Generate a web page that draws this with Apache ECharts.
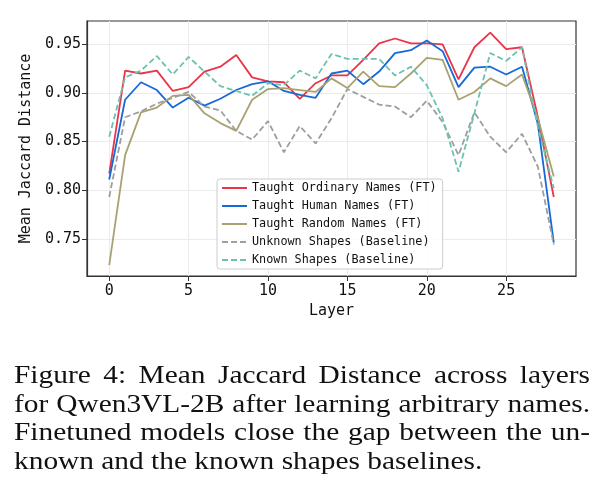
<!DOCTYPE html>
<html lang="en">
<head>
<meta charset="UTF-8">
<title>Mean Jaccard Distance</title>
<style>html,body{margin:0;padding:0;background:#fff}</style>
</head>
<body>
<div id="main" style="width:606px;height:491px;"></div>
<script src="https://cdn.jsdelivr.net/npm/echarts@6/dist/echarts.min.js"></script>
<script>
    // data
    var layers = [0, 1, 2, 3, 4, 5, 6, 7, 8, 9, 10, 11, 12, 13, 14, 15, 16, 17, 18, 19, 20, 21, 22, 23, 24, 25, 26, 27, 28]
    var ordinary = [0.817, 0.923, 0.920, 0.923, 0.902, 0.906, 0.922, 0.927, 0.939, 0.916, 0.912, 0.911, 0.894, 0.910, 0.918,
        0.918, 0.934, 0.951, 0.956, 0.951, 0.951, 0.950, 0.914, 0.947, 0.962, 0.945, 0.947, 0.875, 0.793]
    var human = [0.811, 0.893, 0.911, 0.903, 0.885, 0.895, 0.887, 0.894, 0.903, 0.909, 0.912, 0.902, 0.898, 0.895, 0.920,
        0.923, 0.909, 0.922, 0.941, 0.944, 0.954, 0.943, 0.906, 0.926, 0.927, 0.919, 0.927, 0.868, 0.746]
    var random = [0.723, 0.836, 0.880, 0.885, 0.897, 0.898, 0.879, 0.869, 0.861, 0.893, 0.904, 0.905, 0.903, 0.901, 0.915,
        0.905, 0.922, 0.907, 0.906, 0.920, 0.936, 0.934, 0.893, 0.901, 0.915, 0.907, 0.919, 0.874, 0.814]
    var unknown = [0.793, 0.875, 0.881, 0.889, 0.895, 0.901, 0.886, 0.882, 0.861, 0.852, 0.871, 0.839, 0.866, 0.848, 0.874,
        0.904, 0.896, 0.888, 0.886, 0.875, 0.892, 0.870, 0.836, 0.880, 0.855, 0.839, 0.858, 0.824, 0.744]
    var known = [0.855, 0.916, 0.923, 0.938, 0.919, 0.937, 0.922, 0.907, 0.902, 0.897, 0.910, 0.908, 0.923, 0.915, 0.940,
        0.935, 0.935, 0.935, 0.918, 0.927, 0.908, 0.874, 0.819, 0.879, 0.941, 0.933, 0.947, 0.865, 0.802]
    var xTicks = [0, 5, 10, 15, 20, 25]
    var yTicks = [0.75, 0.80, 0.85, 0.90, 0.95]
    var names = ['Taught Ordinary Names (FT)', 'Taught Human Names (FT)', 'Taught Random Names (FT)',
        'Unknown Shapes (Baseline)', 'Known Shapes (Baseline)']
    var caption = [
        'Figure 4: Mean Jaccard Distance across layers',
        'for Qwen3VL-2B after learning arbitrary names.',
        'Finetuned models close the gap between the un-',
        'known and the known shapes baselines.'
    ]

    var mono = '"DejaVu Sans Mono", monospace'
    var colors = ['#ea3447', '#156ad8', '#a9a270', '#9b9ea3', '#6cc2b0']

    function pairs(vals) {
        return layers.map(function (l, i) { return [l, vals[i]] })
    }

    function lineSeries(name, vals, color, dashed) {
        return {
            name: name,
            type: 'line',
            data: pairs(vals),
            symbol: 'none',
            showSymbol: false,
            lineStyle: { color: color, width: 1.8, type: dashed ? [6, 3] : 'solid' },
            itemStyle: { color: color },
            emphasis: { disabled: true }
        }
    }

    // caption, justified like the LaTeX text (Times stretched a bit to get Palatino widths)
    var capLeft = 14, capRight = 590, capSize = 26, capScale = 1.13
    var capY = [376, 405, 433.5, 462]
    var ctx = document.createElement('canvas').getContext('2d')
    ctx.font = capSize + 'px "Liberation Serif"'
    var graphics = []
    caption.forEach(function (line, k) {
        var words = line.split(' ')
        var widths = words.map(function (w) { return ctx.measureText(w).width * capScale })
        var total = widths.reduce(function (a, b) { return a + b }, 0)
        var last = k == caption.length - 1
        var gap = last ? ctx.measureText(' ').width * capScale : (capRight - capLeft - total) / (words.length - 1)
        var x = capLeft
        words.forEach(function (w, i) {
            graphics.push({
                type: 'text', x: x, y: capY[k], scaleX: capScale, silent: true,
                style: { text: w, fontSize: capSize, fontFamily: '"Liberation Serif"', fill: '#111', verticalAlign: 'middle' }
            })
            x += widths[i] + gap
        })
    })

    var myChart = echarts.init(document.getElementById('main'))
    var option = {
        animation: false,
        grid: { left: 87, top: 21, width: 489, height: 255, show: true, borderColor: '#333', borderWidth: 1.2 },
        legend: {
            orient: 'vertical',
            left: 217,
            top: 179,
            itemWidth: 25,
            itemHeight: 12,
            itemGap: 6,
            padding: [3, 6, 3, 4],
            backgroundColor: 'rgba(255,255,255,0.85)',
            borderColor: '#cccccc',
            borderWidth: 1,
            borderRadius: 3,
            itemStyle: { color: 'rgba(0,0,0,0)', borderColor: 'rgba(0,0,0,0)', borderWidth: 0, opacity: 0 },
            textStyle: { fontFamily: mono, fontSize: 11.8, color: '#111' },
            data: names
        },
        xAxis: {
            type: 'value',
            min: -1.4,
            max: 29.4,
            name: 'Layer',
            nameLocation: 'middle',
            nameGap: 26,
            nameTextStyle: { fontFamily: mono, fontSize: 15, color: '#111' },
            axisLine: { onZero: false, lineStyle: { color: '#333', width: 1.2 } },
            axisTick: { show: true, length: 5, customValues: xTicks, lineStyle: { color: '#333' } },
            axisLabel: { customValues: xTicks, fontFamily: mono, fontSize: 15, color: '#111', margin: 8 },
            splitLine: { show: true, lineStyle: { color: '#ebebeb', width: 1 } }
        },
        yAxis: {
            type: 'value',
            min: 0.7117,
            max: 0.974,
            name: 'Mean Jaccard Distance',
            nameLocation: 'middle',
            nameGap: 46,
            nameTextStyle: { fontFamily: mono, fontSize: 15, color: '#111' },
            axisLine: { show: true, onZero: false, lineStyle: { color: '#333', width: 1.2 } },
            axisTick: { show: true, length: 5, customValues: yTicks, lineStyle: { color: '#333' } },
            axisLabel: {
                customValues: yTicks, fontFamily: mono, fontSize: 15, color: '#111', margin: 6,
                formatter: function (v) { return v.toFixed(2) }
            },
            splitLine: { show: true, lineStyle: { color: '#ebebeb', width: 1 } }
        },
        series: [
            lineSeries(names[0], ordinary, colors[0], false),
            lineSeries(names[1], human, colors[1], false),
            lineSeries(names[2], random, colors[2], false),
            lineSeries(names[3], unknown, colors[3], true),
            lineSeries(names[4], known, colors[4], true)
        ],
        graphic: graphics
    }
    myChart.setOption(option)
</script>
</body>
</html>
